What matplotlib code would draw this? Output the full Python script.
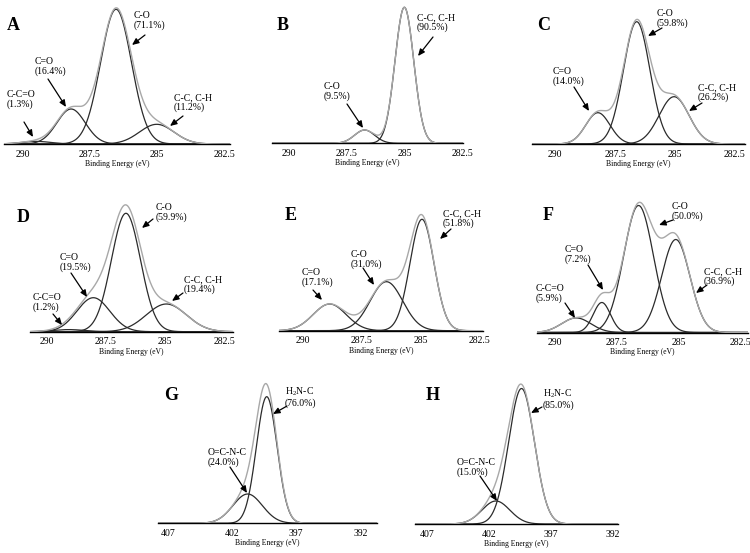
import numpy as np
import matplotlib
matplotlib.use("Agg")
import matplotlib.pyplot as plt

plt.rcParams["font.family"] = "Liberation Serif"
plt.rcParams["mathtext.fontset"] = "custom"
plt.rcParams["mathtext.rm"] = "Liberation Serif"
plt.rcParams["mathtext.it"] = "Liberation Serif:italic"

W, H = 750, 553

# Peak fits: name, area share (%), centre (eV), height (a.u.), FWHM (eV)
a_names = ["C-C=O", "C=O", "C-O", "C-C, C-H"]
a_share = [1.3, 16.4, 71.1, 11.2]
a_center = [289.5, 288.2, 286.53, 285.02]
a_height = [2.6, 35.0, 134.7, 19.7]
a_fwhm = [1.3, 1.24, 1.35, 1.51]

b_names = ["C-O", "C-C, C-H"]
b_share = [9.5, 90.5]
b_center = [286.73, 285.02]
b_height = [13.3, 136.0]
b_fwhm = [1.02, 0.95]

c_names = ["C=O", "C-O", "C-C, C-H"]
c_share = [14.0, 59.8, 26.2]
c_center = [288.22, 286.6, 285.04]
c_height = [31.3, 122.3, 47.3]
c_fwhm = [1.19, 1.3, 1.47]

d_names = ["C-C=O", "C=O", "C-O", "C-C, C-H"]
d_share = [1.2, 19.5, 59.9, 19.4]
d_center = [289.08, 288.03, 286.65, 284.94]
d_height = [2.1, 34.0, 118.4, 27.7]
d_fwhm = [1.6, 1.64, 1.45, 2.0]

e_names = ["C=O", "C-O", "C-C, C-H"]
e_share = [17.1, 31.0, 51.8]
e_center = [288.87, 286.46, 284.95]
e_height = [26.7, 49.0, 111.4]
e_fwhm = [1.65, 1.63, 1.2]

f_names = ["C-C=O", "C=O", "C-O", "C-C, C-H"]
f_share = [5.9, 7.2, 50.0, 36.9]
f_center = [289.15, 288.11, 286.62, 285.11]
f_height = [14.6, 30.0, 127.0, 93.0]
f_fwhm = [1.39, 0.82, 1.42, 1.35]

g_names = ["O=C-N-C", "H$_2$N-C"]
g_share = [24.0, 76.0]
g_center = [400.79, 399.3]
g_height = [29.3, 126.6]
g_fwhm = [2.7, 1.9]

h_names = ["O=C-N-C", "H$_2$N-C"]
h_share = [15.0, 85.0]
h_center = [401.46, 399.39]
h_height = [23.0, 135.5]
h_fwhm = [2.65, 2.45]

c1s_ticks = [290, 287.5, 285, 282.5]
n1s_ticks = [407, 402, 397, 392]

# layout in image pixels: (left, right, baseline y), x limits,
# and per peak: text top-left, arrow tail, arrow tip
panels = [
    ("A", a_names, a_share, a_center, a_height, a_fwhm, c1s_ticks,
     (4, 230, 144), (290.69, 282.30),
     [((7, 90), (24, 122), (33, 137)),
      ((35, 57), (48, 79), (66, 107)),
      ((134, 11), (145, 35), (132, 45)),
      ((174, 93), (183, 116), (170, 126))]),
    ("B", b_names, b_share, b_center, b_height, b_fwhm, c1s_ticks,
     (272, 463, 143.3), (290.71, 282.5),
     [((324, 82), (347, 104), (363, 128)),
      ((417, 13), (433, 37), (418, 56))]),
    ("C", c_names, c_share, c_center, c_height, c_fwhm, c1s_ticks,
     (532, 745, 144), (290.97, 282.08),
     [((553, 67), (574, 87), (589, 111)),
      ((657, 9), (662, 28), (648, 36)),
      ((698, 83), (702, 103), (689, 111))]),
    ("D", d_names, d_share, d_center, d_height, d_fwhm, c1s_ticks,
     (30, 233, 331.7), (290.71, 282.12),
     [((33, 293), (53, 314), (62, 325)),
      ((60, 253), (71, 273), (87, 297)),
      ((156, 203), (153, 219), (142, 228)),
      ((184, 275), (183, 293), (172, 301))]),
    ("E", e_names, e_share, e_center, e_height, e_fwhm, c1s_ticks,
     (279, 483, 330.7), (291.02, 282.36),
     [((302, 268), (313, 290), (322, 300)),
      ((351, 250), (363, 268), (374, 285)),
      ((443, 209), (451, 229), (440, 239))]),
    ("F", f_names, f_share, f_center, f_height, f_fwhm, c1s_ticks,
     (537, 748, 332.5), (290.74, 282.18),
     [((536, 284), (565, 303), (575, 318)),
      ((565, 245), (588, 265), (603, 290)),
      ((672, 202), (673, 220), (659, 225)),
      ((704, 267), (707, 285), (696, 293))]),
    ("G", g_names, g_share, g_center, g_height, g_fwhm, n1s_ticks,
     (158, 377, 523.3), (407.78, 390.7),
     [((208, 448), (230, 467), (247, 493)),
      ((285, 386), (287, 406), (273, 414))]),
    ("H", h_names, h_share, h_center, h_height, h_fwhm, n1s_ticks,
     (415, 618, 524), (407.99, 391.6),
     [((457, 458), (480, 476), (497, 501)),
      ((543, 388), (542, 407), (531, 413))]),
]

letter_pos = {"A": (13, 25), "B": (283, 25), "C": (544, 26), "D": (23, 217),
              "E": (291, 216), "F": (548, 216), "G": (171, 396), "H": (433, 395)}

AX_H = 145


def fig_xy(p):
    return p[0] / W, 1 - p[1] / H


def gauss(x, c, h, w):
    s = w / (2 * np.sqrt(2 * np.log(2)))
    return h * np.exp(-0.5 * ((x - c) / s) ** 2)


fig = plt.figure(figsize=(7.5, 5.53), dpi=100)

for letter, names, share, center, height, fwhm, ticks, rect, xlim, notes in panels:
    left, right, base = rect
    ax = fig.add_axes([left / W, 1 - base / H, (right - left) / W, AX_H / H])
    x = np.linspace(xlim[0], xlim[1], 600)
    total = np.zeros_like(x)
    for c, h, w in zip(center, height, fwhm):
        y = gauss(x, c, h, w)
        total += y
        ax.plot(x, y, color="#2b2b2b", lw=0.9, zorder=2)
    ax.plot(x, total, color="#a8a8a8", lw=1.0, zorder=3)
    ax.set_xlim(xlim)
    ax.set_ylim(0, AX_H)
    ax.set_xticks(ticks)
    ax.set_xticklabels([f"{t:g}" for t in ticks])
    ax.tick_params(axis="x", length=0, labelsize=7, pad=4)
    ax.set_yticks([])
    for s in ["left", "right", "top"]:
        ax.spines[s].set_visible(False)
    ax.spines["bottom"].set_linewidth(1.0)
    ax.patch.set_alpha(0)
    ax.set_xlabel("Binding Energy (eV)", fontsize=5.5, labelpad=1)

    for name, pct, (txt, tail, tip) in zip(names, share, notes):
        fig.text(*fig_xy(txt), f"{name}\n({pct:.1f}%)", ha="left", va="top",
                 fontsize=7, linespacing=1.05)
        ax.annotate("", xy=fig_xy(tip), xytext=fig_xy(tail),
                    xycoords="figure fraction", textcoords="figure fraction",
                    arrowprops=dict(arrowstyle="-|>,head_length=0.5,head_width=0.22",
                                    color="black", lw=0.9, mutation_scale=8,
                                    shrinkA=0, shrinkB=0))

    fig.text(*fig_xy(letter_pos[letter]), letter, ha="center", va="center",
             fontsize=13, fontweight="bold")

fig.savefig("out.png", dpi=100)
